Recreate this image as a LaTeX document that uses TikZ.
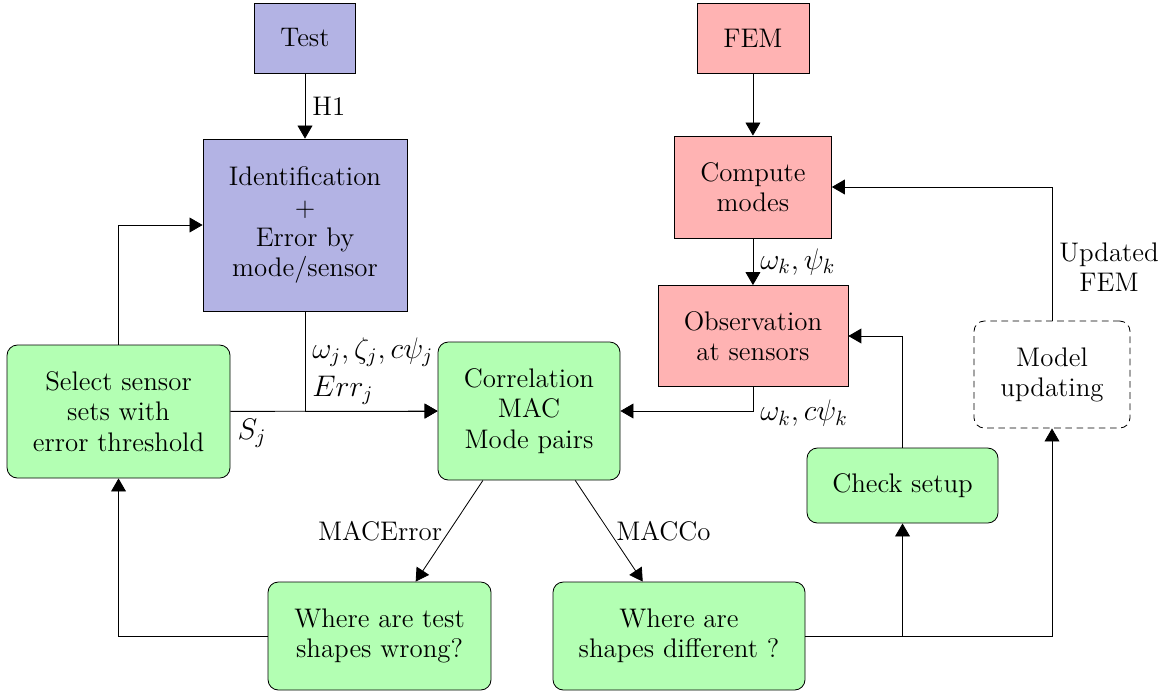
\documentclass[tikz,border=0pt]{standalone}
\usetikzlibrary{arrows.meta}
\definecolor{testcol}{RGB}{179,179,228}
\definecolor{femcol}{RGB}{255,179,179}
\definecolor{proccol}{RGB}{179,255,179}
\begin{document}
\begin{tikzpicture}[
  every node/.style={font=\fontsize{13}{14.6}\selectfont},
  >={Triangle[length=6.3pt,width=7.2pt]},
  testbox/.style={draw, fill=testcol, align=center},
  fembox/.style={draw, fill=femcol, align=center},
  procbox/.style={draw, fill=proccol, rounded corners=5pt, align=center},
  updbox/.style={draw, dash pattern=on 3.2pt off 2.2pt, rounded corners=5pt, align=center},
  mathlbl/.style={font=\fontsize{14.4}{18.2}\selectfont}
]
\useasboundingbox (0,0) rectangle (19.958,-11.764);

% test side
\node[testbox, minimum width=1.717cm, minimum height=1.19cm] (test) at (5.185,-0.646) {Test};
\node[testbox, minimum width=3.468cm, minimum height=2.924cm] (ident) at (5.185,-3.825)
  {Identification\\+\\Error by\\mode/sensor};

% fem side
\node[fembox, minimum width=1.904cm, minimum height=1.19cm] (fem) at (12.80,-0.646) {FEM};
\node[fembox, minimum width=2.669cm, minimum height=1.734cm] (compute) at (12.80,-3.179) {Compute\\modes};
\node[fembox, minimum width=3.23cm, minimum height=1.717cm] (obs) at (12.80,-5.712) {Observation\\at sensors};

% processing
\node[procbox, minimum width=3.791cm, minimum height=2.261cm] (select) at (2.015,-6.996)
  {Select sensor\\sets with\\error threshold};
\node[procbox, minimum width=3.094cm, minimum height=2.346cm] (corr) at (8.993,-6.987)
  {Correlation\\MAC\\Mode pairs};
\node[updbox, minimum width=2.652cm, minimum height=1.819cm] (model) at (17.884,-6.367) {Model\\updating};
\node[procbox, minimum width=3.247cm, minimum height=1.275cm] (check) at (15.343,-8.254) {Check setup};
\node[procbox, minimum width=3.791cm, minimum height=1.836cm] (wtest) at (6.452,-10.812)
  {Where are test\\shapes wrong?};
\node[procbox, minimum width=4.284cm, minimum height=1.836cm] (wdiff) at (11.543,-10.812)
  {Where are\\shapes different ?};

\draw[->] (test) -- (ident) node[midway, right] {H1};
\draw[->] (fem) -- (compute);
\draw[->] (compute) -- (obs) node[mathlbl, midway, right] {$\omega_k, \psi_k$};
\draw[->] (ident) |- (corr) node[mathlbl, pos=0.3, right, align=left] {$\omega_j, \zeta_j, c\psi_j$\\$Err_j$};
\draw[->] (select) -- (corr) node[mathlbl, pos=0, below right] {$S_j$};
\draw[->] (select) |- (ident);
\draw[->] (obs) |- (corr) node[mathlbl, pos=0.5, anchor=west, yshift=-1.2pt] {$\omega_k, c\psi_k$};
\draw[->] (corr) -- (wtest) node[midway, left] {MACError};
\draw[->] (corr) -- (wdiff) node[midway, right] {MACCo};
\draw[->] (wtest) -| (select);
\draw[->] (wdiff) -| (check);
\draw[->] (wdiff) -| (model);
\draw[->] (check) |- (obs);
\draw[->] (model) |- (compute) node[pos=0.2, right, align=center] {Updated\\FEM};

\end{tikzpicture}
\end{document}
